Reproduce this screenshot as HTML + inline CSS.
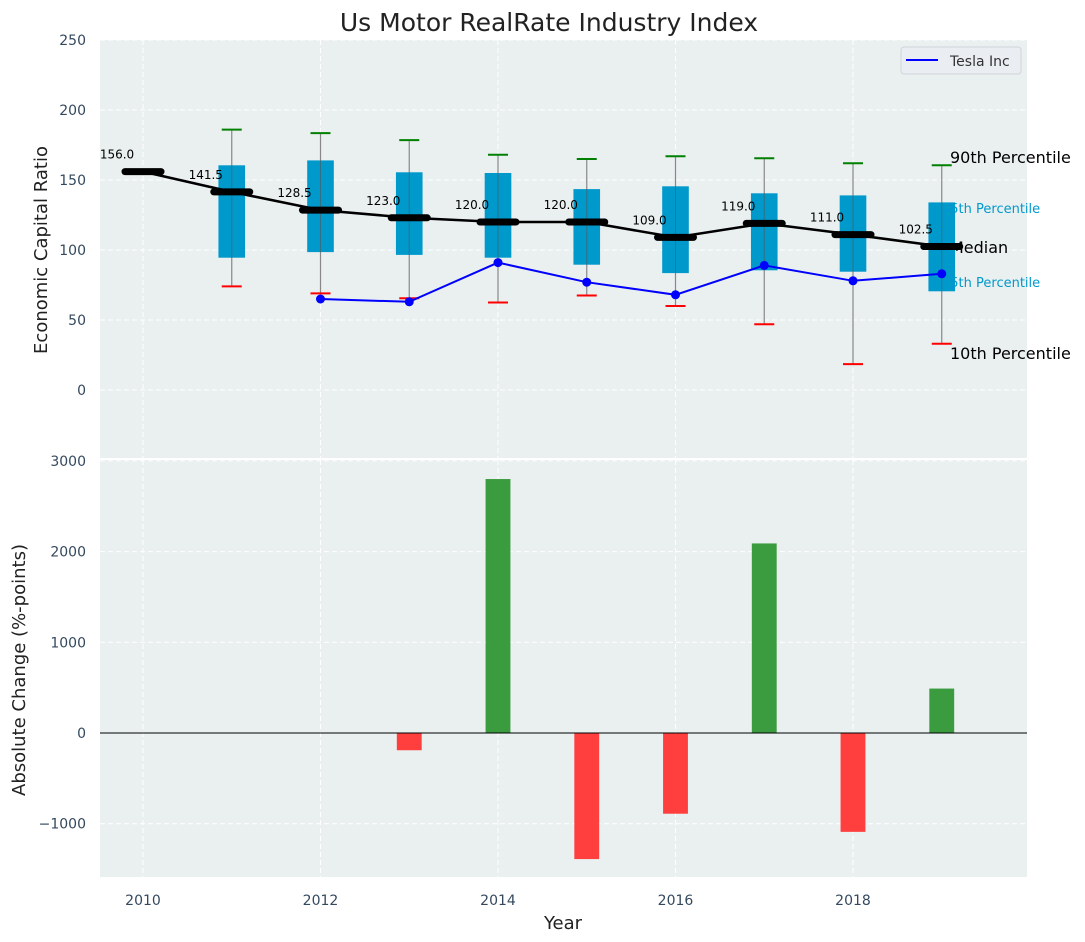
<!DOCTYPE html>
<html><head><meta charset="utf-8"><style>
body{margin:0;background:#fff;}
svg{display:block;font-family:"DejaVu Sans","Liberation Sans",sans-serif;}
</style></head><body>
<svg id="chart" width="1085" height="942" viewBox="0 0 1085 942"></svg>
<script>
const years=[2010,2011,2012,2013,2014,2015,2016,2017,2018,2019];
const medians=[156,141.5,128.5,123,120,120,109,119,111,102.5];
const boxYears=[2011,2012,2013,2014,2015,2016,2017,2018,2019];
const p90=[186,183.5,178.5,168,165,167,165.5,162,160.5];
const p75=[160.5,164,155.5,155,143.5,145.5,140.5,139,134];
const p25=[94.5,98.5,96.5,94.5,89.5,83.5,85.5,84.5,70.5];
const p10=[74,69,65.5,62.5,67.5,60,47,18.5,33];
const teslaYears=[2012,2013,2014,2015,2016,2017,2018,2019];
const tesla=[65,63,91,77,68,89,78,83];
const changeYears=[2013,2014,2015,2016,2017,2018,2019];
const changes=[-190,2800,-1390,-890,2090,-1090,490];
const topTicks=[0,50,100,150,200,250];
const botTicks=[-1000,0,1000,2000,3000];
const xTicks=[2010,2012,2014,2016,2018];

const NS="http://www.w3.org/2000/svg";
const svg=document.getElementById('chart');
function el(t,a,p){const e=document.createElementNS(NS,t);for(const k in a)e.setAttribute(k,a[k]);(p||svg).appendChild(e);return e;}
const L=100,R=1027;
const x=v=>143+(v-2010)*88.75;
const yT=v=>390-v*1.4;
const yB=v=>733-v*0.0907;

let e=el('rect',{x:L,y:40,width:R-L,height:418,fill:'#eaeff0'});

e=el('rect',{x:L,y:460,width:R-L,height:417,fill:'#eaeff0'});


for(const t of topTicks){
 el('line',{x1:L,x2:R,y1:yT(t),y2:yT(t),stroke:'#fff','stroke-dasharray':'5,3','stroke-width':1});
 e=el('text',{x:86,y:yT(t)+5,'text-anchor':'end','font-size':14,fill:'#34495e'});e.textContent=t;
 
}
for(const t of botTicks){
 el('line',{x1:L,x2:R,y1:yB(t),y2:yB(t),stroke:'#fff','stroke-dasharray':'5,3','stroke-width':1});
 e=el('text',{x:86,y:yB(t)+5,'text-anchor':'end','font-size':14,fill:'#34495e'});e.textContent=(t<0?'\u2212'+(-t):t);
 
}
for(const t of xTicks){
 el('line',{x1:x(t),x2:x(t),y1:40,y2:458,stroke:'#fff','stroke-dasharray':'5,3'});
 el('line',{x1:x(t),x2:x(t),y1:460,y2:877,stroke:'#fff','stroke-dasharray':'5,3'});
 e=el('text',{x:x(t),y:905,'text-anchor':'middle','font-size':14,fill:'#34495e'});e.textContent=t;
 
}

const lx=950;
const rl=[['90th Percentile',lx,163,16,'#000'],['75th Percentile',942,213,13,'#0099cc'],['Median',lx,253,16,'#000'],['25th Percentile',942,287,13,'#0099cc'],['10th Percentile',lx,359,16,'#000']];
for(const [t,xx,yy,fs,c] of rl){
 e=el('text',{x:xx,y:yy,'font-size':fs,fill:c});e.textContent=t;
 
}

const bw=0.3*88.75/2;
boxYears.forEach((yr,i)=>{
 const cx=x(yr);
 e=el('line',{x1:cx,x2:cx,y1:yT(p90[i]),y2:yT(p10[i]),stroke:'#888','stroke-width':1.2});
 
 e=el('rect',{x:cx-bw,y:yT(p75[i]),width:2*bw,height:yT(p25[i])-yT(p75[i]),fill:'#0099cc'});
 
 el('line',{x1:cx,x2:cx,y1:yT(p75[i]),y2:yT(p25[i]),stroke:'#555','stroke-width':1,opacity:0.6});
 e=el('line',{x1:cx-10,x2:cx+10,y1:yT(p90[i]),y2:yT(p90[i]),stroke:'green','stroke-width':2});
 
 e=el('line',{x1:cx-10,x2:cx+10,y1:yT(p10[i]),y2:yT(p10[i]),stroke:'red','stroke-width':2});
 
});

e=el('polyline',{points:years.map((y,i)=>x(y)+','+yT(medians[i])).join(' '),fill:'none',stroke:'#000','stroke-width':2.5});

years.forEach((yr,i)=>{
 e=el('line',{x1:x(yr)-18,x2:x(yr)+18,y1:yT(medians[i]),y2:yT(medians[i]),stroke:'#000','stroke-width':7,'stroke-linecap':'round'});
 
 e=el('text',{x:x(yr)-26,y:yT(medians[i])-13,'text-anchor':'middle','font-size':12,fill:'#000'});e.textContent=medians[i].toFixed(1);
 
});

e=el('polyline',{points:teslaYears.map((y,i)=>x(y)+','+yT(tesla[i])).join(' '),fill:'none',stroke:'#0000ff','stroke-width':2});

teslaYears.forEach((yr,i)=>{
 e=el('circle',{cx:x(yr),cy:yT(tesla[i]),r:4.5,fill:'#0000ff'});
 
});

e=el('g',{});
el('rect',{x:901,y:47,width:120,height:27,rx:3,fill:'#eaeef2',stroke:'#d0d4d8'},e);
el('line',{x1:906,x2:938,y1:60,y2:60,stroke:'#0000ff','stroke-width':2},e);
let t=el('text',{x:950,y:66,'font-size':14,fill:'#333'},e);t.textContent='Tesla Inc';

const bh=0.28*88.75/2;
changeYears.forEach((yr,i)=>{
 const v=changes[i];
 e=el('rect',{x:x(yr)-bh,y:Math.min(yB(v),yB(0)),width:2*bh,height:Math.abs(yB(v)-yB(0)),fill:v>=0?'#3a9c3e':'#ff3e3e'});
 
});
el('line',{x1:L,x2:R,y1:yB(0),y2:yB(0),stroke:'#000','stroke-width':1});

e=el('text',{x:549,y:31,'text-anchor':'middle','font-size':25,fill:'#222'});e.textContent='Us Motor RealRate Industry Index';

e=el('text',{x:563,y:929,'text-anchor':'middle','font-size':18,fill:'#222'});e.textContent='Year';

e=el('text',{x:0,y:0,'text-anchor':'middle','font-size':18,fill:'#222',transform:'translate(47,250) rotate(-90)'});e.textContent='Economic Capital Ratio';

e=el('text',{x:0,y:0,'text-anchor':'middle','font-size':18,fill:'#222',transform:'translate(25,670) rotate(-90)'});e.textContent='Absolute Change (%-points)';

</script>
</body></html>
